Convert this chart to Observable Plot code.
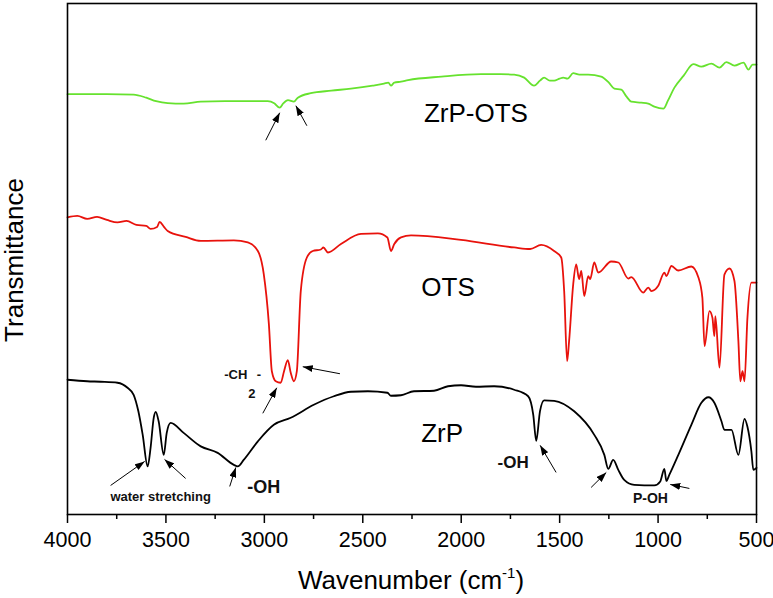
<!DOCTYPE html>
<html>
<head>
<meta charset="utf-8">
<script src="https://cdn.jsdelivr.net/npm/d3@7"></script>
<script src="https://cdn.jsdelivr.net/npm/@observablehq/plot@0.6"></script>
<style>
  html, body { margin: 0; padding: 0; background: #fff; }
  #chart { width: 773px; height: 598px; }
</style>
</head>
<body>
<div id="chart"></div>
<script>
// ---- Data (wavenumber cm^-1, transmittance a.u., curves offset) ----
const xTicks = [4000, 3500, 3000, 2500, 2000, 1500, 1000, 500];
const xMinorTicks = [3750, 3250, 2750, 2250, 1750, 1250, 750];

const zrpOts = [
  [4000,83.9],[3900,83.9],[3800,83.9],[3664,83.8],[3600,83.2],[3550,82.5],[3491,82.1],
  [3410,82.0],[3323,82.4],[3200,82.5],[3100,82.5],[2983,82.5],[2950,82.1],[2922,81.2],
  [2905,82.0],[2880,82.7],[2850,82.4],[2830,83.2],[2764,84.1],[2660,84.6],[2560,85.0],
  [2450,85.6],[2392,86.0],[2370,86.2],[2357,85.6],[2340,86.2],[2306,86.4],[2270,86.7],
  [2100,87.4],[1899,87.9],[1800,87.9],[1731,87.8],[1680,87.2],[1630,85.6],[1600,86.6],
  [1579,87.2],[1550,86.6],[1528,86.6],[1500,87.0],[1482,87.2],[1460,87.0],[1431,88.1],
  [1400,87.8],[1355,87.8],[1289,87.4],[1250,86.2],[1222,85.0],[1187,84.8],[1160,83.4],
  [1136,82.4],[1085,82.2],[1050,82.0],[1019,81.4],[973,81.0],[950,82.6],[917,85.2],
  [870,87.6],[821,89.9],[780,89.4],[729,90.0],[688,89.2],[653,90.3],[612,89.6],
  [566,90.2],[541,88.8],[520,89.8],[500,89.8]
];

const ots = [
  [4000,59.3],[3950,59.6],[3900,59.0],[3850,59.4],[3800,58.8],[3746,58.3],[3700,58.6],
  [3650,57.8],[3600,57.6],[3578,57.0],[3545,57.4],[3532,58.4],[3510,57.4],[3491,56.6],
  [3400,55.4],[3323,54.6],[3155,54.7],[3084,54.3],[3033,52.6],[3003,48.0],[2977,38.0],
  [2962,28.6],[2942,26.6],[2917,26.3],[2900,28.6],[2881,30.8],[2866,28.3],[2850,26.6],
  [2835,28.6],[2815,44.6],[2784,51.3],[2754,52.6],[2713,52.9],[2700,53.3],[2677,52.3],
  [2611,54.0],[2509,56.0],[2423,56.1],[2375,55.3],[2357,52.6],[2340,54.0],[2306,55.3],
  [2255,55.7],[2001,54.8],[1731,53.3],[1650,53.0],[1594,53.8],[1528,52.6],[1492,51.3],
  [1477,44.6],[1462,30.6],[1452,34.6],[1431,46.0],[1416,49.9],[1401,47.0],[1390,48.6],
  [1375,43.6],[1355,47.6],[1345,47.0],[1324,50.3],[1304,48.3],[1238,50.5],[1202,50.3],
  [1151,47.1],[1136,47.4],[1075,44.3],[1050,45.3],[1034,44.6],[1000,45.6],[968,48.3],
  [958,47.6],[932,49.6],[897,48.7],[831,49.5],[795,47.3],[775,43.3],[764,33.6],
  [739,40.6],[724,39.3],[714,35.6],[709,39.6],[688,29.3],[663,47.9],[637,49.1],
  [612,46.6],[592,34.6],[582,26.6],[571,28.6],[561,26.6],[546,39.3],[526,46.3],[500,46.3]
];

const zrp = [
  [4000,26.9],[3900,26.6],[3832,26.5],[3746,26.3],[3695,25.3],[3664,23.9],[3640,20.6],
  [3618,15.9],[3593,9.6],[3578,13.3],[3562,19.3],[3552,20.5],[3537,18.6],[3511,11.9],
  [3496,16.3],[3476,18.3],[3410,16.3],[3323,13.6],[3237,12.3],[3155,9.9],[3135,9.6],
  [3105,10.9],[3033,14.6],[2952,17.9],[2866,19.3],[2749,21.9],[2647,23.6],[2560,24.5],
  [2474,24.6],[2375,24.3],[2357,23.7],[2306,23.8],[2240,24.6],[2138,24.7],[2067,25.6],
  [2001,25.8],[1925,25.5],[1833,25.6],[1731,24.9],[1660,23.6],[1634,19.9],[1619,14.7],
  [1600,20.6],[1579,22.8],[1528,22.7],[1426,20.6],[1324,15.9],[1273,11.9],[1253,9.1],
  [1228,10.9],[1202,8.9],[1172,6.9],[1121,5.9],[1019,5.8],[989,6.6],[968,9.1],
  [958,6.7],[943,7.9],[897,11.9],[831,17.9],[780,22.3],[744,23.4],[714,22.3],
  [678,18.6],[663,16.9],[627,16.9],[592,11.9],[561,19.1],[546,17.5],[526,12.6],
  [516,8.9],[500,9.3]
];

// Series names and colours
const seriesNames = ["ZrP-OTS", "OTS", "ZrP"];
const seriesColors = ["#66e22e", "#e8120c", "#000000"];

// Annotation labels: [wavenumber, value, text]
const seriesLabels = [[1925,80.0,"ZrP-OTS"],[2067,45.3,"OTS"],[2097,16.2,"ZrP"]];
const boldLabels = [
  [1736,10.4,"-OH",17],[3003,5.4,"-OH",18],[1039,3.2,"P-OH",14],
  [3527,3.6,"water stretching",13],[3145,27.9,"-CH",13],[3028,27.9,"-",13],[3064,24.0,"2",13]
];
// Arrows: [tail wn, tail value, head wn, head value]
const arrows = [
  [2993,74.7,2922,80.2],[2784,77.6,2840,81.6],
  [3008,20.2,2937,25.3],[2616,28.1,2805,29.5],
  [3781,5.8,3608,10.6],[3400,7.2,3507,11.0],[3176,5.6,3145,9.4],
  [1518,8.4,1599,13.8],[1340,5.4,1263,8.4],[841,5.2,938,6.0]
];

// ---- Build ----
const lines = [zrpOts, ots, zrp].flatMap((s, i) =>
  s.map(([wn, t]) => ({wn, t, series: seriesNames[i]})));

const filledHead = (color, context) => {
  const doc = context.document;
  const ns = "http://www.w3.org/2000/svg";
  const m = doc.createElementNS(ns, "marker");
  m.setAttribute("viewBox", "-10 -3.5 10 7");
  m.setAttribute("markerWidth", 10);
  m.setAttribute("markerHeight", 7);
  m.setAttribute("markerUnits", "userSpaceOnUse");
  m.setAttribute("refX", 0);
  m.setAttribute("refY", 0);
  m.setAttribute("orient", "auto");
  const p = doc.createElementNS(ns, "path");
  p.setAttribute("d", "M-10,-3.5L0,0L-10,3.5Z");
  p.setAttribute("fill", color);
  p.setAttribute("stroke", "none");
  m.appendChild(p);
  return m;
};

const chart = Plot.plot({
  width: 773,
  height: 598,
  marginLeft: 67,
  marginRight: 17,
  marginTop: 3,
  marginBottom: 84,
  style: {fontFamily: "'Liberation Sans', Arial, sans-serif", background: "#fff", color: "#000"},
  x: {domain: [4000, 500]},
  y: {domain: [0, 102], axis: null},
  color: {domain: seriesNames, range: seriesColors},
  marks: [
    Plot.line(lines, {x: "wn", y: "t", z: "series", stroke: "series", strokeWidth: 1.8, curve: "monotone-x"}),
    Plot.axisX({ticks: xTicks, tickSize: 9, tickPadding: 8, fontSize: 21.5, strokeWidth: 1.5,
      tickFormat: d => String(d), label: null}),
    Plot.axisX({ticks: xMinorTicks, tickSize: 5, strokeWidth: 1.5, text: null, label: null}),
    Plot.frame({stroke: "#000", strokeWidth: 1.6}),
    Plot.text(seriesLabels, {x: d => d[0], y: d => d[1], text: d => d[2], fontSize: 26, fill: "#000"}),
    Plot.text(boldLabels, {x: d => d[0], y: d => d[1], text: d => d[2], fontSize: d => d[3], fontWeight: "bold", fill: "#111"}),
    Plot.link(arrows, {x1: d => d[0], y1: d => d[1], x2: d => d[2], y2: d => d[3], stroke: "#000", strokeWidth: 1, markerEnd: filledHead})
  ]
});

document.getElementById("chart").appendChild(chart);

// Axis titles
const svg = d3.select(chart);
const xt = svg.append("text")
  .attr("x", 411).attr("y", 589)
  .attr("text-anchor", "middle")
  .attr("font-size", 26)
  .attr("font-family", "'Liberation Sans', Arial, sans-serif")
  .attr("fill", "#000");
xt.append("tspan").text("Wavenumber (cm");
xt.append("tspan").attr("font-size", 15).attr("dy", -11).text("-1");
xt.append("tspan").attr("dy", 11).text(")");

svg.append("text")
  .attr("transform", "translate(23,260) rotate(-90)")
  .attr("text-anchor", "middle")
  .attr("font-size", 26)
  .attr("font-family", "'Liberation Sans', Arial, sans-serif")
  .attr("fill", "#000")
  .text("Transmittance");
</script>
</body>
</html>
